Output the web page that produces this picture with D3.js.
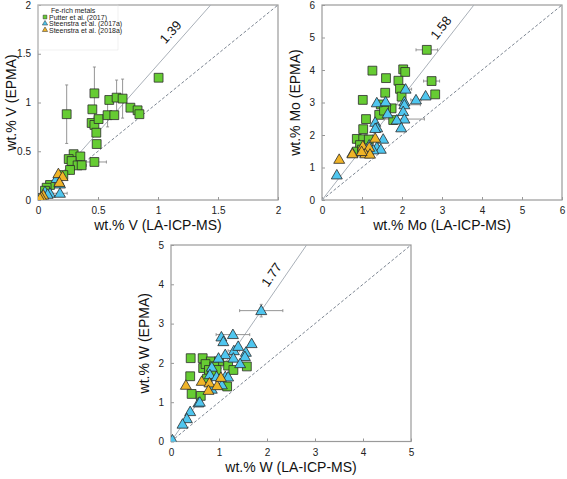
<!DOCTYPE html>
<html>
<head>
<meta charset="utf-8">
<script src="https://cdn.jsdelivr.net/npm/d3@7"></script>
<style>
  html, body { margin: 0; padding: 0; background: #fff; }
  svg { display: block; font-family: "Liberation Sans", Arial, sans-serif; }
</style>
</head>
<body>
<svg id="chart" width="567" height="479"></svg>
<script>
// ---------- DATA (x = LA-ICP-MS, y = EPMA, optional ex / ey = error half-widths) ----------
const seriesNames = ["Putter et al. (2017)", "Steenstra et al. (2017a)", "Steenstra et al. (2018a)"];
const legendTitle = "Fe-rich metals";

// Vanadium
const vPutter = [
  [0.239, 0.88, 0.03, 0.30], [0.47, 1.094, 0.02, 0.27], [0.453, 0.93], [0.447, 0.79],
  [0.47, 0.77, 0.02, 0.08], [0.505, 0.83], [0.486, 0.69], [0.489, 0.574],
  [0.47, 0.39, 0.10, 0], [0.594, 1.026], [0.58, 0.87, 0, 0.12], [0.636, 0.87],
  [0.655, 1.05, 0, 0.18], [0.705, 1.04, 0, 0.20], [0.77, 0.947], [0.83, 0.92],
  [0.845, 0.88], [1.005, 1.254],
  [0.297, 0.47], [0.256, 0.42], [0.353, 0.447], [0.28, 0.40], [0.33, 0.355],
  [0.364, 0.356, 0.04, 0], [0.267, 0.308], [0.211, 0.256], [0.10, 0.154],
  [0.072, 0.126], [0.058, 0.095]
];
const vSteen17 = [
  [0.155, 0.22, 0.02, 0], [0.183, 0.164, 0.03, 0], [0.10, 0.069], [0.183, 0.069, 0.06, 0],
  [0.058, 0.085], [0.08, 0.058], [0.005, 0.012]
];
const vSteen18 = [
  [0.17, 0.27], [0.205, 0.24], [0.178, 0.18], [0.044, 0.05], [0.03, 0.027], [0.017, 0.017]
];

// Molybdenum
const moPutter = [
  [2.62, 4.62, 0.27, 0], [1.26, 3.98], [2.03, 4.02], [2.08, 3.94], [1.60, 3.75],
  [1.91, 3.67], [2.74, 3.66, 0.20, 0], [1.95, 3.42], [1.58, 3.30], [2.83, 3.25],
  [1.99, 3.18], [1.02, 3.08], [1.74, 2.82], [1.47, 2.94], [1.60, 2.82], [1.43, 2.62],
  [1.10, 2.49], [1.78, 2.46], [1.03, 2.18], [0.87, 1.88], [1.03, 1.87], [0.95, 1.69],
  [0.87, 1.49], [1.17, 1.86], [1.0, 1.55], [1.55, 2.75]
];
const moSteen17 = [
  [0.37, 0.77], [0.76, 1.44], [1.37, 2.99], [1.59, 3.02], [2.09, 3.41, 0.15, 0],
  [2.06, 3.02], [2.35, 3.08, 0.13, 0], [2.59, 3.20], [2.06, 2.93, 0.40, 0], [2.03, 2.72],
  [2.06, 2.49, 0.50, 0], [1.87, 2.46], [1.64, 2.65], [1.33, 2.39], [1.38, 2.22],
  [1.33, 2.20], [1.98, 2.22], [1.53, 1.87], [1.18, 1.69], [1.37, 1.62], [1.47, 1.56],
  [1.28, 1.54], [1.15, 1.50]
];
const moSteen18 = [
  [0.43, 1.25], [1.33, 1.90], [1.02, 1.66], [1.18, 1.62], [0.76, 1.42], [1.08, 1.42],
  [1.20, 1.41], [0.99, 1.49]
];

// Tungsten
const wPutter = [
  [0.41, 2.12], [0.66, 2.12], [0.83, 2.04], [1.0, 2.04], [0.67, 1.87], [0.72, 1.97],
  [0.90, 1.91], [1.19, 1.93], [1.30, 1.82], [1.58, 1.91], [0.79, 1.82], [0.95, 1.82],
  [0.40, 1.66], [0.85, 1.70], [1.17, 1.40], [0.43, 1.21], [0.62, 1.16], [0.75, 1.60]
];
const wSteen17 = [
  [1.88, 3.33, 0.45, 0.16], [1.05, 2.66], [1.29, 2.72, 0.35, 0], [1.09, 2.54], [1.68, 2.49],
  [1.31, 2.31, 0.12, 0], [1.40, 2.42], [1.56, 2.27], [1.13, 2.21], [0.99, 2.12],
  [1.30, 2.12], [1.54, 2.16], [1.44, 1.98], [0.85, 1.89], [0.81, 1.70], [0.95, 1.65],
  [1.13, 1.65], [1.19, 1.64], [1.06, 1.44], [0.85, 1.33], [0.57, 0.98], [0.60, 1.0],
  [0.40, 0.76], [0.33, 0.58], [0.24, 0.44], [0.03, 0.04]
];
const wSteen18 = [
  [0.31, 1.43], [0.64, 1.53], [0.80, 1.49], [0.96, 1.42], [0.78, 1.30], [1.04, 1.63]
];

const vTicks = [0, 0.5, 1, 1.5, 2];
const moTicks = [0, 1, 2, 3, 4, 5, 6];
const wTicks = [0, 1, 2, 3, 4, 5];
const slopes = { V: 1.39, Mo: 1.58, W: 1.77 };
const slopeLabels = { V: "1.39", Mo: "1.58", W: "1.77" };

// ---------- STYLE ----------
const colors = ["#66cc33", "#4fc6ef", "#f0b428"];
const stroke = "#2b2b2b";
const svg = d3.select("#chart");

function drawPanel(cfg) {
  const g = svg.append("g");
  const x = d3.scaleLinear().domain([0, cfg.max]).range([cfg.left, cfg.left + cfg.w]);
  const y = d3.scaleLinear().domain([0, cfg.max]).range([cfg.top + cfg.h, cfg.top]);

  const clipId = "clip" + cfg.el;
  svg.append("clipPath").attr("id", clipId).append("rect")
    .attr("x", cfg.left).attr("y", cfg.top).attr("width", cfg.w).attr("height", cfg.h);

  const xAx = g.append("g").attr("transform", `translate(0,${cfg.top + cfg.h})`)
    .call(d3.axisBottom(x).tickValues(cfg.ticks).tickSize(-3).tickPadding(7)
      .tickFormat(d3.format("")));
  const yAx = g.append("g").attr("transform", `translate(${cfg.left},0)`)
    .call(d3.axisLeft(y).tickValues(cfg.ticks).tickSize(-3).tickPadding(7)
      .tickFormat(d3.format("")));
  [xAx, yAx].forEach(a => {
    a.select(".domain").remove();
    a.selectAll(".tick line").attr("stroke", "#999");
    a.selectAll(".tick text").attr("fill", "#222").style("font-size", "10px")
      .style("font-family", "'Liberation Sans', Arial, sans-serif");
  });

  g.append("rect").attr("x", cfg.left).attr("y", cfg.top).attr("width", cfg.w).attr("height", cfg.h)
    .attr("fill", "none").attr("stroke", "#9a9a9a").attr("stroke-width", 1.2);

  const pg = g.append("g").attr("clip-path", `url(#${clipId})`);
  pg.append("line").attr("x1", x(0)).attr("y1", y(0)).attr("x2", x(cfg.max)).attr("y2", y(cfg.max))
    .attr("stroke", "#6d7785").attr("stroke-width", 0.9).attr("stroke-dasharray", "3,2");
  const s = cfg.slope;
  pg.append("line").attr("x1", x(0)).attr("y1", y(0)).attr("x2", x(cfg.max / s)).attr("y2", y(cfg.max))
    .attr("stroke", "#a9b0b8").attr("stroke-width", 1);

  const ang = Math.atan2(y(0) - y(s * 1), x(1) - x(0)) * 180 / Math.PI;
  const rad = ang * Math.PI / 180;
  const px = x(cfg.labelX), py = y(s * cfg.labelX);
  const lx = px - 11 * Math.sin(rad), ly = py - 11 * Math.cos(rad);
  g.append("text").attr("x", lx).attr("y", ly)
    .attr("transform", `rotate(${-ang},${lx},${ly})`)
    .attr("text-anchor", "middle").attr("dominant-baseline", "middle")
    .style("font-size", "13px").attr("fill", "#111").text(cfg.labelText);

  const sets = [cfg.putter, cfg.s17, cfg.s18];
  sets.forEach((data) => {
    const eg = pg.append("g").attr("stroke", "#8a8a8a").attr("stroke-width", 0.9);
    data.forEach(d => {
      const ex = d[2] || 0, ey = d[3] || 0;
      if (ex > 0) {
        eg.append("line").attr("x1", x(d[0] - ex)).attr("x2", x(d[0] + ex)).attr("y1", y(d[1])).attr("y2", y(d[1]));
        [d[0] - ex, d[0] + ex].forEach(v => eg.append("line").attr("x1", x(v)).attr("x2", x(v)).attr("y1", y(d[1]) - 1.5).attr("y2", y(d[1]) + 1.5));
      }
      if (ey > 0) {
        eg.append("line").attr("x1", x(d[0])).attr("x2", x(d[0])).attr("y1", y(d[1] - ey)).attr("y2", y(d[1] + ey));
        [d[1] - ey, d[1] + ey].forEach(v => eg.append("line").attr("y1", y(v)).attr("y2", y(v)).attr("x1", x(d[0]) - 1.5).attr("x2", x(d[0]) + 1.5));
      }
    });
  });
  sets.forEach((data, i) => {
    const sym = i === 0 ? d3.symbol().type(d3.symbolSquare).size(78)
                        : d3.symbol().type(d3.symbolTriangle).size(52);
    pg.append("g").selectAll("path").data(data).join("path")
      .attr("d", sym)
      .attr("transform", d => `translate(${x(d[0])},${y(d[1]) + (i === 0 ? 0 : 0.8)})`)
      .attr("fill", colors[i]).attr("stroke", stroke).attr("stroke-width", 0.8);
  });

  g.append("text").attr("x", cfg.left + cfg.w / 2).attr("y", cfg.top + cfg.h + 30)
    .attr("text-anchor", "middle").style("font-size", "14px").attr("fill", "#111").text(cfg.xTitle);
  g.append("text").attr("transform", `translate(${cfg.left - 22},${cfg.top + cfg.h / 2}) rotate(-90)`)
    .attr("text-anchor", "middle").style("font-size", "14px").attr("fill", "#111").text(cfg.yTitle);
  return { g, x, y };
}

drawPanel({ el: "V", left: 38, top: 5, w: 240, h: 195, max: 2, ticks: vTicks,
  slope: slopes.V, labelX: 1.18, labelText: slopeLabels.V,
  putter: vPutter, s17: vSteen17, s18: vSteen18,
  xTitle: "wt.% V (LA-ICP-MS)", yTitle: "wt.% V (EPMA)" });
drawPanel({ el: "Mo", left: 322, top: 5, w: 240, h: 195, max: 6, ticks: moTicks,
  slope: slopes.Mo, labelX: 3.21, labelText: slopeLabels.Mo,
  putter: moPutter, s17: moSteen17, s18: moSteen18,
  xTitle: "wt.% Mo (LA-ICP-MS)", yTitle: "wt.% Mo (EPMA)" });
drawPanel({ el: "W", left: 171, top: 245, w: 240, h: 196.5, max: 5, ticks: wTicks,
  slope: slopes.W, labelX: 2.3, labelText: slopeLabels.W,
  putter: wPutter, s17: wSteen17, s18: wSteen18,
  xTitle: "wt.% W (LA-ICP-MS)", yTitle: "wt.% W (EPMA)" });

// legend (panel 1)
const lg = svg.append("g");
lg.append("rect").attr("x", 38).attr("y", 5).attr("width", 80).attr("height", 45)
  .attr("fill", "none").attr("stroke", "#e2e2e2").attr("stroke-width", 0.5);
lg.append("text").attr("x", 51).attr("y", 12.5).style("font-size", "7px").attr("fill", "#222").text(legendTitle);
seriesNames.forEach((name, i) => {
  const yy = 17 + i * 6.5;
  const sym = i === 0 ? d3.symbol().type(d3.symbolSquare).size(14) : d3.symbol().type(d3.symbolTriangle).size(12);
  lg.append("path").attr("d", sym).attr("transform", `translate(45,${yy})`)
    .attr("fill", colors[i]).attr("stroke", stroke).attr("stroke-width", 0.5);
  lg.append("text").attr("x", 49).attr("y", yy + 2.5).style("font-size", "7px").attr("fill", "#222").text(name);
});
</script>
</body>
</html>
